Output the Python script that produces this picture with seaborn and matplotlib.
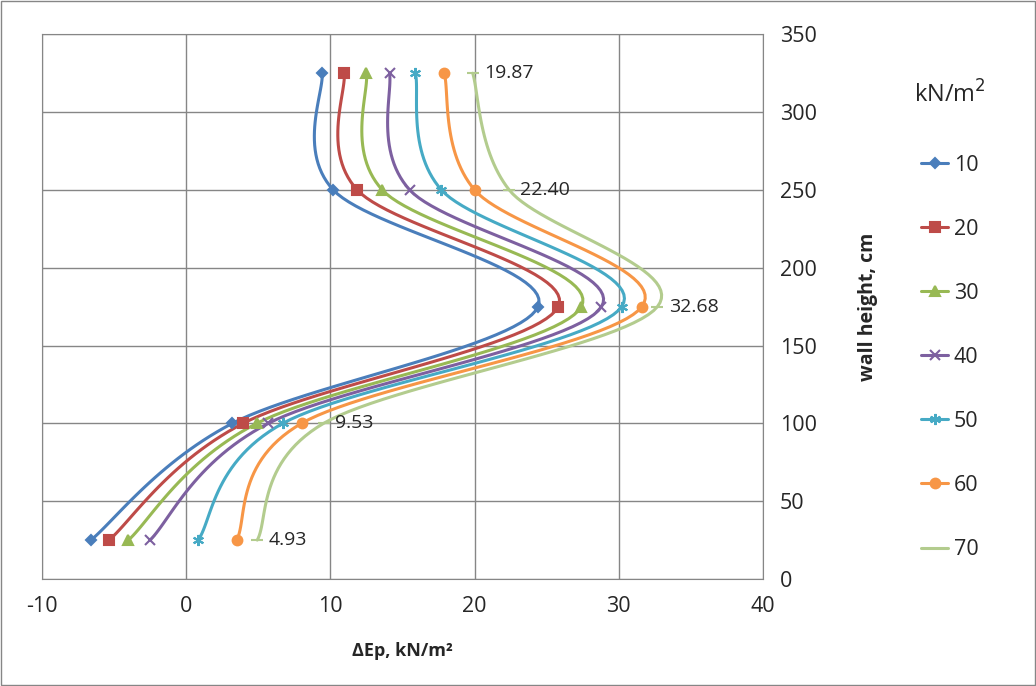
import numpy as np
import pandas as pd
import seaborn as sns
import matplotlib.pyplot as plt
from matplotlib.lines import Line2D
from matplotlib.patches import Rectangle

# wall height levels (cm) and delta Ep per surcharge (kN/m2)
heights = [325, 250, 175, 100, 25]
loads = ['10', '20', '30', '40', '50', '60', '70']
ep_10 = [9.43, 10.2, 24.4, 3.2, -6.6]
ep_20 = [10.96, 11.86, 25.8, 3.95, -5.34]
ep_30 = [12.5, 13.6, 27.4, 4.9, -4.0]
ep_40 = [14.1, 15.5, 28.8, 5.7, -2.5]
ep_50 = [15.9, 17.7, 30.2, 6.7, 0.83]
ep_60 = [17.9, 20.0, 31.6, 8.0, 3.5]
ep_70 = [19.87, 22.40, 32.68, 9.53, 4.93]
series = [ep_10, ep_20, ep_30, ep_40, ep_50, ep_60, ep_70]

colors = ['#4A7EBB', '#BE4B48', '#98B954', '#7D60A0', '#46AAC5', '#F79646', '#B3CC8E']
markers = ['D', 's', '^', 'x', (6, 2, 0), 'o', '_']
msizes = [5, 7, 7, 7, 8, 7, 8]


def smooth(xs, ys, n=30):
    # excel-like smoothed line (catmull-rom bezier)
    p = np.column_stack([xs, ys]).astype(float)
    p_ext = np.vstack([p[0], p, p[-1]])
    out = []
    t = np.linspace(0, 1, n)[:, None]
    for i in range(len(p) - 1):
        a = p_ext[i + 1]
        b = p_ext[i + 2]
        c1 = a + (p_ext[i + 2] - p_ext[i]) / 6
        c2 = b - (p_ext[i + 3] - p_ext[i + 1]) / 6
        seg = (1 - t) ** 3 * a + 3 * (1 - t) ** 2 * t * c1 + 3 * (1 - t) * t ** 2 * c2 + t ** 3 * b
        out.append(seg if i == 0 else seg[1:])
    out = np.vstack(out)
    return out[:, 0], out[:, 1]


sns.set_style('white')
plt.rcParams['font.family'] = ['Open Sans', 'DejaVu Sans']
plt.rcParams['axes.unicode_minus'] = False

fig = plt.figure(figsize=(10.36, 6.86), dpi=100)
ax = fig.add_axes([0.0405, 0.156, 0.696, 0.794])

for vals, lab, col, mk, ms in zip(series, loads, colors, markers, msizes):
    sx, sy = smooth(vals, heights)
    curve = pd.DataFrame({'x': sx, 'y': sy})
    sns.lineplot(data=curve, x='x', y='y', sort=False, estimator=None,
                 color=col, linewidth=2.2, ax=ax)
    ax.plot(vals, heights, linestyle='none', marker=mk, markersize=ms,
            color=col, markeredgewidth=1.5, zorder=4)

# data labels for the 70 kN/m2 series
for xv, yv in zip(ep_70, heights):
    ax.annotate(f'{xv:.2f}', (xv, yv), xytext=(8, 0), textcoords='offset points',
                ha='left', va='center', fontsize=14)

ax.set_xlim(-10, 40)
ax.set_ylim(0, 350)
ax.set_xticks(range(-10, 41, 10))
ax.set_yticks(range(0, 351, 50))
ax.yaxis.tick_right()
ax.yaxis.set_label_position('right')
ax.tick_params(axis='both', labelsize=15.5, length=0, pad=12)
ax.grid(True, color='#868686', linewidth=1)
ax.set_axisbelow(True)
for sp in ax.spines.values():
    sp.set_color('#868686')

ax.set_xlabel('ΔEp, kN/m²', fontsize=13, fontweight='bold', labelpad=18)
ax.set_ylabel('wall height, cm', fontsize=14, fontweight='bold', labelpad=30)

handles = [Line2D([0], [0], color=c, marker=m, markersize=ms, linewidth=2.2,
                  markeredgewidth=1.5) for c, m, ms in zip(colors, markers, msizes)]
handles[-1] = Line2D([0], [0], color=colors[-1], linewidth=2.2)
lgd = fig.legend(handles=handles, labels=loads, loc='upper left',
                 bbox_to_anchor=(0.881, 0.787), frameon=False, fontsize=15.5,
                 handlelength=1.25, handletextpad=0.25, labelspacing=2.0,
                 borderaxespad=0)
fig.text(0.917, 0.862, 'kN/m$^2$', fontsize=17, ha='center', va='center')

fig.patches.append(Rectangle((0.001, 0.001), 0.998, 0.998, transform=fig.transFigure,
                             fill=False, edgecolor='#868686', linewidth=1))

plt.savefig('out.png', dpi=100)
